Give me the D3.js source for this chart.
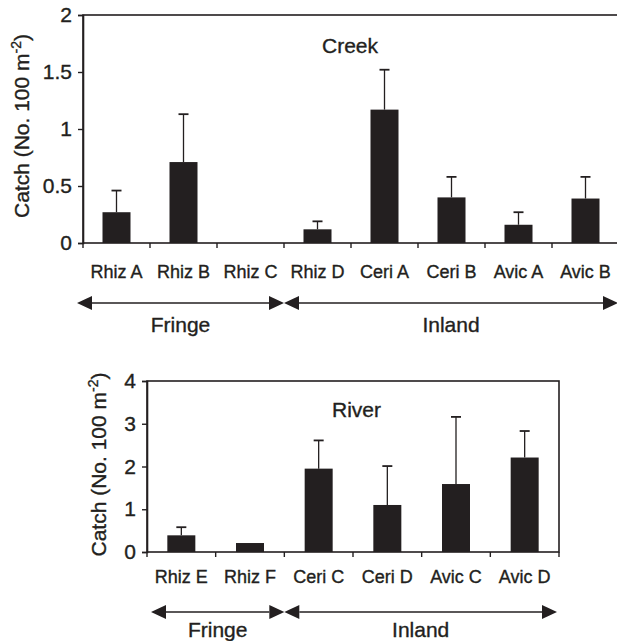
<!DOCTYPE html>
<html>
<head>
<meta charset="utf-8">
<script src="https://cdn.jsdelivr.net/npm/d3@7"></script>
<style>
  body { margin: 0; background: #fff; }
  text { font-family: "Liberation Sans", Arial, sans-serif; fill: #231f20; stroke: #231f20; stroke-width: 0.35px; }
</style>
</head>
<body>
<div id="chart"></div>
<script>
const ink = '#231f20';

// creek panel
const creekSites = ['Rhiz A','Rhiz B','Rhiz C','Rhiz D','Ceri A','Ceri B','Avic A','Avic B'];
const creekMean  = [0.27, 0.71, 0, 0.12, 1.17, 0.40, 0.16, 0.39];
const creekError = [0.46, 1.13, 0, 0.19, 1.52, 0.58, 0.27, 0.58];
const creekTicks = [0, 0.5, 1, 1.5, 2];

// river panel
const riverSites = ['Rhiz E','Rhiz F','Ceri C','Ceri D','Avic C','Avic D'];
const riverMean  = [0.39, 0.21, 1.95, 1.10, 1.59, 2.21];
const riverError = [0.58, 0.21, 2.61, 2.01, 3.16, 2.83];
const riverTicks = [0, 1, 2, 3, 4];

const svg = d3.select('#chart')
  .append('svg')
  .attr('width', 617)
  .attr('height', 641);

function panel(opt){
  const g = svg.append('g');
  const x = d3.scaleBand()
    .domain(opt.sites)
    .range([opt.left, opt.right])
    .paddingInner(0)
    .paddingOuter(0);
  const y = d3.scaleLinear()
    .domain([0, opt.ticks[opt.ticks.length-1]])
    .range([opt.bottom, opt.top]);
  const bw = 28;

  // frame
  g.append('rect')
    .attr('x', opt.left).attr('y', opt.top)
    .attr('width', opt.right - opt.left)
    .attr('height', opt.bottom - opt.top)
    .attr('fill', 'none').attr('stroke', ink).attr('stroke-width', 1.6);

  // y axis
  const ya = g.append('g')
    .attr('transform', `translate(${opt.left},0)`)
    .call(d3.axisLeft(y).tickValues(opt.ticks).tickSize(5).tickPadding(6).tickFormat(d => String(d)));
  ya.attr('font-size', 21).attr('font-family', null);
  ya.select('.domain').attr('stroke', ink).attr('stroke-width', 1.6);
  ya.selectAll('.tick line').attr('stroke', ink).attr('stroke-width', 1.4);
  ya.selectAll('.tick text').attr('font-size', 21).style('font-size', '21px').attr('fill', ink);

  // x boundary ticks
  const edges = opt.sites.map(s => x(s)).concat([opt.right]);
  g.selectAll('.xtick').data(edges).join('line')
    .attr('x1', d => d).attr('x2', d => d)
    .attr('y1', opt.bottom).attr('y2', opt.bottom + 5)
    .attr('stroke', ink).attr('stroke-width', 1.4);

  // category labels
  g.selectAll('.cat').data(opt.sites).join('text')
    .attr('x', d => x(d) + x.bandwidth()/2)
    .attr('y', opt.bottom + opt.catDy)
    .attr('text-anchor', 'middle')
    .style('font-size', '18px')
    .text(d => d);

  // error bars
  opt.sites.forEach((s, i) => {
    if (opt.error[i] <= opt.mean[i]) return;
    const cx = x(s) + x.bandwidth()/2;
    g.append('line')
      .attr('x1', cx).attr('x2', cx)
      .attr('y1', y(opt.mean[i])).attr('y2', y(opt.error[i]))
      .attr('stroke', ink).attr('stroke-width', 1.3);
    g.append('line')
      .attr('x1', cx - 5).attr('x2', cx + 5)
      .attr('y1', y(opt.error[i])).attr('y2', y(opt.error[i]))
      .attr('stroke', ink).attr('stroke-width', 1.8);
  });

  // bars
  g.selectAll('.bar').data(opt.sites).join('rect')
    .attr('x', d => x(d) + x.bandwidth()/2 - bw/2)
    .attr('width', bw)
    .attr('y', (d, i) => y(opt.mean[i]))
    .attr('height', (d, i) => opt.bottom - y(opt.mean[i]))
    .attr('fill', ink);

  // y title
  const t = g.append('text')
    .attr('transform', `translate(${opt.titleX},${(opt.top + opt.bottom)/2 + opt.titleShift}) rotate(-90)`)
    .attr('text-anchor', 'middle')
    .style('font-size', '21px');
  t.append('tspan').text('Catch (No. 100 m');
  t.append('tspan').attr('dy', -8).style('font-size', '14px').text('-2');
  t.append('tspan').attr('dy', 8).text(')');

  // panel name
  g.append('text')
    .attr('x', opt.nameX).attr('y', opt.nameY)
    .style('font-size', '21px')
    .text(opt.name);

  // habitat arrows
  const split = x(opt.sites[opt.split]);
  arrow(g, opt.arrowL, split, opt.arrowY);
  arrow(g, split, opt.arrowR, opt.arrowY);
  g.append('text')
    .attr('x', (opt.arrowL + split)/2).attr('y', opt.labelY)
    .attr('text-anchor', 'middle').style('font-size', '21px').text('Fringe');
  g.append('text')
    .attr('x', (split + opt.arrowR)/2).attr('y', opt.labelY)
    .attr('text-anchor', 'middle').style('font-size', '21px').text('Inland');
}

function arrow(g, x1, x2, yy){
  const hl = 15, hh = 7;
  g.append('line')
    .attr('x1', x1 + hl).attr('x2', x2 - hl)
    .attr('y1', yy).attr('y2', yy)
    .attr('stroke', ink).attr('stroke-width', 1.6);
  g.append('path')
    .attr('d', `M${x1},${yy}L${x1+hl},${yy-hh}L${x1+hl},${yy+hh}Z`)
    .attr('fill', ink);
  g.append('path')
    .attr('d', `M${x2},${yy}L${x2-hl},${yy-hh}L${x2-hl},${yy+hh}Z`)
    .attr('fill', ink);
}

panel({
  sites: creekSites, mean: creekMean, error: creekError, ticks: creekTicks,
  left: 83, right: 619, top: 15, bottom: 243,
  catDy: 35, titleX: 29, titleShift: -3,
  name: 'Creek', nameX: 322, nameY: 53,
  split: 3, arrowL: 77, arrowR: 618, arrowY: 303, labelY: 332
});

panel({
  sites: riverSites, mean: riverMean, error: riverError, ticks: riverTicks,
  left: 147, right: 559, top: 381, bottom: 552,
  catDy: 31, titleX: 106, titleShift: -2,
  name: 'River', nameX: 332, nameY: 417,
  split: 2, arrowL: 151, arrowR: 557, arrowY: 612, labelY: 637
});
</script>
</body>
</html>
